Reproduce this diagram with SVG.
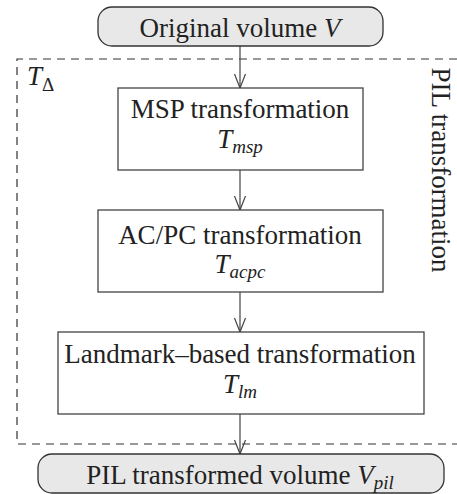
<svg xmlns="http://www.w3.org/2000/svg" width="457" height="494" viewBox="0 0 457 494" font-family="'Liberation Serif', 'Times New Roman', 'DejaVu Serif', serif">
<style>
text{font-family:'Liberation Serif','Times New Roman','DejaVu Serif',serif;font-size:27px;fill:#222;text-anchor:middle}
.it{font-style:italic}
.sub{font-style:italic;font-size:19px}
.subn{font-style:normal;font-size:19px}
.box{fill:#fff;stroke:#444;stroke-width:1.3}
.term{fill:#e8e8e8;stroke:#333;stroke-width:1.3}
.edge{stroke:#444;stroke-width:1.2;fill:none;marker-end:url(#arr)}
.dash{stroke:#333;stroke-width:1.2;fill:none;stroke-dasharray:8 6}
</style>
<defs>
<marker id="arr" markerUnits="userSpaceOnUse" markerWidth="16" markerHeight="14" refX="15" refY="7" orient="auto" viewBox="0 0 16 14">
<path d="M1 1.5 L15 7 L1 12.5" fill="none" stroke="#444" stroke-width="1.2"/>
</marker>
</defs>
<rect width="457" height="494" fill="#fff"/>
<g id="pil-group">
<path class="dash" d="M457 59 H17 V444 H457"/>
<text x="27" y="85" style="text-anchor:start"><tspan class="it">T</tspan><tspan class="subn" dy="6">Δ</tspan></text>
<text transform="translate(432,170) rotate(90)">PIL transformation</text>
</g>
<g id="connectors">
<path class="edge" d="M240 46 V88"/>
<path class="edge" d="M240 170 V210"/>
<path class="edge" d="M240 292 V332"/>
<path class="edge" d="M240 414 V454"/>
</g>
<g id="original">
<rect class="term" x="98" y="7" width="285" height="39" rx="14"/>
<text x="240" y="37">Original volume <tspan class="it">V</tspan></text>
</g>
<g id="msp">
<rect class="box" x="118" y="88" width="245" height="82"/>
<text x="240" y="118">MSP transformation</text>
<text x="240" y="148"><tspan class="it">T</tspan><tspan class="sub" dy="5">msp</tspan></text>
</g>
<g id="acpc">
<rect class="box" x="98" y="210" width="285" height="82"/>
<text x="240" y="244">AC/PC transformation</text>
<text x="240" y="273"><tspan class="it">T</tspan><tspan class="sub" dy="5">acpc</tspan></text>
</g>
<g id="landmark">
<rect class="box" x="58" y="332" width="366" height="82"/>
<text x="240" y="363">Landmark–based transformation</text>
<text x="240" y="393"><tspan class="it">T</tspan><tspan class="sub" dy="5">lm</tspan></text>
</g>
<g id="result">
<rect class="term" x="38" y="454" width="406" height="39" rx="14"/>
<text x="240" y="484">PIL transformed volume <tspan class="it">V</tspan><tspan class="sub" dy="5">pil</tspan></text>
</g>
</svg>
